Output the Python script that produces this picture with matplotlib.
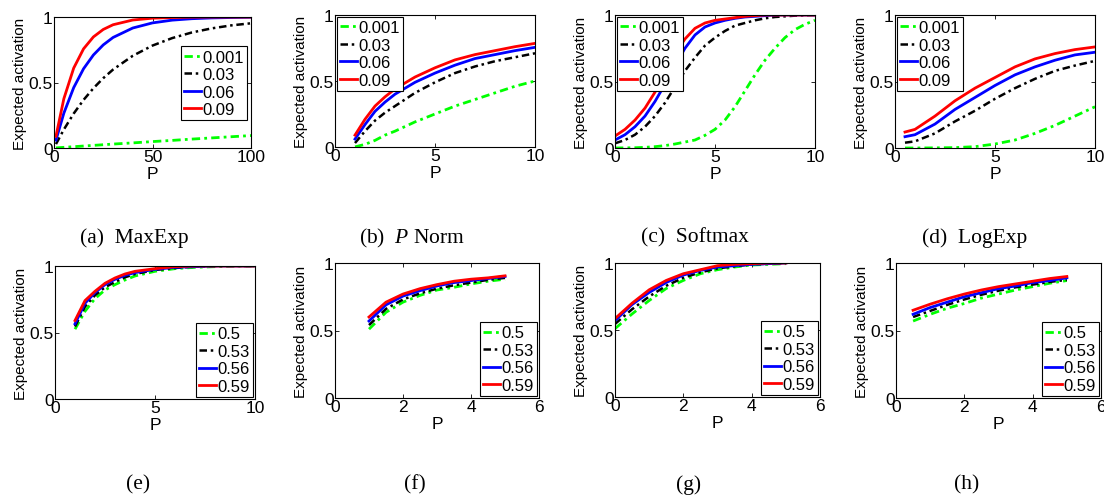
import matplotlib
matplotlib.use('Agg')
import matplotlib.pyplot as plt
from matplotlib.ticker import FormatStrFormatter

plt.rcParams['font.family'] = ['Liberation Sans', 'DejaVu Sans']
plt.rcParams['mathtext.fontset'] = 'custom'
plt.rcParams['mathtext.it'] = 'Liberation Serif:italic'
plt.rcParams['mathtext.rm'] = 'Liberation Serif'

# (a) MaxExp
maxexp_p = [1, 5, 10, 15, 20, 25, 30, 40, 50, 60, 70, 80, 90, 100]
maxexp_001 = [0.001, 0.005, 0.01, 0.015, 0.02, 0.025, 0.03, 0.039, 0.049, 0.058, 0.068, 0.077, 0.086, 0.095]
maxexp_03 = [0.03, 0.141, 0.263, 0.367, 0.456, 0.533, 0.599, 0.704, 0.782, 0.839, 0.882, 0.913, 0.936, 0.952]
maxexp_06 = [0.06, 0.266, 0.461, 0.605, 0.71, 0.787, 0.844, 0.916, 0.955, 0.976, 0.987, 0.993, 0.996, 0.998]
maxexp_09 = [0.09, 0.376, 0.61, 0.757, 0.848, 0.905, 0.941, 0.977, 0.991, 0.996, 0.999, 1.0, 1.0, 1.0]

# (b) P Norm
pnorm_p = [1, 1.5, 2, 2.5, 3, 4, 5, 6, 7, 8, 9, 10]
pnorm_001 = [0.001, 0.02, 0.05, 0.09, 0.12, 0.19, 0.25, 0.31, 0.36, 0.41, 0.46, 0.50]
pnorm_03 = [0.03, 0.12, 0.20, 0.26, 0.31, 0.41, 0.49, 0.56, 0.61, 0.65, 0.68, 0.71]
pnorm_06 = [0.06, 0.17, 0.27, 0.34, 0.40, 0.49, 0.56, 0.62, 0.67, 0.70, 0.73, 0.755]
pnorm_09 = [0.09, 0.21, 0.31, 0.38, 0.44, 0.53, 0.60, 0.66, 0.70, 0.73, 0.76, 0.785]

# (c) Softmax
softmax_p = [0, 0.5, 1, 1.5, 2, 2.5, 3, 3.5, 4, 4.5, 5, 5.5, 6, 6.5, 7, 7.5, 8, 8.5, 9, 9.5, 10]
softmax_001 = [0.0, 0.001, 0.002, 0.005, 0.01, 0.018, 0.03, 0.045, 0.06, 0.095, 0.14, 0.21, 0.31, 0.43, 0.55, 0.66, 0.75, 0.83, 0.89, 0.93, 0.96]
softmax_03 = [0.035, 0.06, 0.10, 0.16, 0.24, 0.34, 0.46, 0.58, 0.68, 0.77, 0.83, 0.88, 0.92, 0.94, 0.96, 0.975, 0.985, 0.99, 0.995, 0.998, 1.0]
softmax_06 = [0.06, 0.10, 0.16, 0.24, 0.35, 0.48, 0.62, 0.75, 0.85, 0.91, 0.94, 0.96, 0.975, 0.985, 0.99, 0.995, 1.0, 1.0, 1.0, 1.0, 1.0]
softmax_09 = [0.09, 0.14, 0.21, 0.30, 0.42, 0.56, 0.71, 0.82, 0.90, 0.94, 0.96, 0.97, 0.98, 0.99, 0.995, 1.0, 1.0, 1.0, 1.0, 1.0, 1.0]

# (d) LogExp
logexp_p = [0.5, 1, 2, 3, 4, 5, 6, 7, 8, 9, 10]
logexp_001 = [0.0, 0.0, 0.001, 0.003, 0.01, 0.03, 0.06, 0.11, 0.17, 0.24, 0.31]
logexp_03 = [0.04, 0.05, 0.11, 0.20, 0.28, 0.37, 0.45, 0.52, 0.58, 0.62, 0.655]
logexp_06 = [0.085, 0.10, 0.18, 0.29, 0.38, 0.47, 0.55, 0.61, 0.66, 0.70, 0.72]
logexp_09 = [0.12, 0.14, 0.24, 0.355, 0.45, 0.53, 0.61, 0.67, 0.71, 0.74, 0.76]

# (e)
e_p = [1, 1.5, 2, 2.5, 3, 3.5, 4, 5, 6, 7, 8, 9, 10]
e_50 = [0.525, 0.66, 0.755, 0.82, 0.86, 0.895, 0.925, 0.96, 0.98, 0.99, 0.995, 1.0, 1.0]
e_53 = [0.545, 0.695, 0.78, 0.84, 0.88, 0.915, 0.94, 0.97, 0.985, 0.995, 1.0, 1.0, 1.0]
e_56 = [0.565, 0.72, 0.80, 0.86, 0.90, 0.93, 0.95, 0.975, 0.99, 0.995, 1.0, 1.0, 1.0]
e_59 = [0.59, 0.74, 0.81, 0.87, 0.91, 0.94, 0.96, 0.98, 0.995, 1.0, 1.0, 1.0, 1.0]

# (f)
f_p = [1, 1.5, 2, 2.5, 3, 3.5, 4, 4.5, 5]
f_50 = [0.51, 0.635, 0.71, 0.76, 0.80, 0.82, 0.845, 0.865, 0.88]
f_53 = [0.54, 0.66, 0.73, 0.775, 0.81, 0.835, 0.855, 0.875, 0.89]
f_56 = [0.57, 0.69, 0.755, 0.795, 0.83, 0.855, 0.87, 0.885, 0.90]
f_59 = [0.60, 0.71, 0.77, 0.81, 0.84, 0.865, 0.88, 0.89, 0.905]

# (g)
g_p = [0, 0.5, 1, 1.5, 2, 2.5, 3, 3.5, 4, 4.5, 5]
g_50 = [0.51, 0.62, 0.72, 0.81, 0.87, 0.92, 0.95, 0.97, 0.985, 0.99, 0.995]
g_53 = [0.545, 0.655, 0.75, 0.83, 0.89, 0.93, 0.96, 0.975, 0.99, 0.995, 1.0]
g_56 = [0.57, 0.69, 0.78, 0.855, 0.91, 0.945, 0.97, 0.98, 0.99, 0.995, 1.0]
g_59 = [0.585, 0.70, 0.80, 0.87, 0.92, 0.95, 0.98, 0.99, 0.995, 1.0, 1.0]

# (h)
h_p = [0.5, 1, 1.5, 2, 2.5, 3, 3.5, 4, 4.5, 5]
h_50 = [0.57, 0.62, 0.665, 0.70, 0.74, 0.77, 0.80, 0.825, 0.85, 0.87]
h_53 = [0.60, 0.645, 0.69, 0.73, 0.765, 0.795, 0.82, 0.84, 0.86, 0.875]
h_56 = [0.62, 0.67, 0.71, 0.75, 0.78, 0.81, 0.83, 0.855, 0.87, 0.89]
h_59 = [0.65, 0.695, 0.735, 0.77, 0.80, 0.825, 0.845, 0.865, 0.885, 0.90]

top_labels = ['0.001', '0.03', '0.06', '0.09']
bottom_labels = ['0.5', '0.53', '0.56', '0.59']
captions = ['(a)  MaxExp', '(b)  $P$ Norm', '(c)  Softmax', '(d)  LogExp', '(e)', '(f)', '(g)', '(h)']

W, H = 1104, 502
fig = plt.figure(figsize=(W / 100, H / 100), dpi=100)

# pixel boxes: left, top, right, bottom
boxes = [(54, 18, 251, 149), (335, 16, 535, 148), (615, 16, 815, 149), (895, 16, 1095, 149),
         (55, 267, 255, 400), (335, 264, 539, 399), (615, 264, 820, 398), (896, 264, 1101, 399)]
panels = [
    (maxexp_p, [maxexp_001, maxexp_03, maxexp_06, maxexp_09], 100, [0, 50, 100]),
    (pnorm_p, [pnorm_001, pnorm_03, pnorm_06, pnorm_09], 10, [0, 5, 10]),
    (softmax_p, [softmax_001, softmax_03, softmax_06, softmax_09], 10, [0, 5, 10]),
    (logexp_p, [logexp_001, logexp_03, logexp_06, logexp_09], 10, [0, 5, 10]),
    (e_p, [e_50, e_53, e_56, e_59], 10, [0, 5, 10]),
    (f_p, [f_50, f_53, f_56, f_59], 6, [0, 2, 4, 6]),
    (g_p, [g_50, g_53, g_56, g_59], 6, [0, 2, 4, 6]),
    (h_p, [h_50, h_53, h_56, h_59], 6, [0, 2, 4, 6]),
]
legend_pos = [('upper right', (0.99, 0.79)), ('upper left', (0.0, 1.0)), ('upper left', (0.0, 1.0)),
              ('upper left', (0.0, 1.0)), ('lower right', (1.0, 0.0)), ('lower right', (1.0, 0.0)),
              ('lower right', (1.0, 0.0)), ('lower right', (1.0, 0.0))]
caption_xy = [(134, 238), (412, 238), (695, 238), (975, 238), (138, 485), (415, 485), (689, 485), (967, 485)]

colors = ['#00ff00', 'k', '#0000ff', '#ff0000']
styles = [(0, (3, 1.5, 1, 1.5)), (0, (3, 1.5, 1, 1.5)), '-', '-']
widths = [2.0, 1.8, 2.0, 2.0]

for i, (p, series, xmax, xt) in enumerate(panels):
    l, t, r, b = boxes[i]
    ax = fig.add_axes([l / W, 1 - b / H, (r - l) / W, (b - t) / H])
    labels = top_labels if i < 4 else bottom_labels
    for y, c, ls, lw, lab in zip(series, colors, styles, widths, labels):
        ax.plot(p, y, color=c, linestyle=ls, lw=lw, label=lab)
    ax.set_xlim(0, xmax)
    ax.set_ylim(0, 1)
    ax.set_xticks(xt)
    ax.set_yticks([0, 0.5, 1])
    ax.yaxis.set_major_formatter(FormatStrFormatter('%g'))
    ax.tick_params(direction='in', top=True, right=True, length=3, width=0.6,
                   labelsize=12.5, pad=1)
    for s in ax.spines.values():
        s.set_linewidth(0.8)
    ax.set_xlabel('P', fontsize=12.5, labelpad=1)
    ax.set_ylabel('Expected activation', fontsize=11, labelpad=1)
    loc, anchor = legend_pos[i]
    leg = ax.legend(loc=loc, bbox_to_anchor=anchor, fontsize=12, handlelength=1.0,
                    handletextpad=0.1, labelspacing=0.15, borderpad=0.2, borderaxespad=0.1,
                    fancybox=False, framealpha=1)
    leg.get_frame().set_edgecolor('k')
    leg.get_frame().set_linewidth(0.8)
    cx, cy = caption_xy[i]
    fig.text(cx / W, 1 - cy / H, captions[i], ha='center', va='center',
             fontsize=15.5, family=['Liberation Serif', 'DejaVu Serif'])

fig.savefig('out.png', dpi=100)
